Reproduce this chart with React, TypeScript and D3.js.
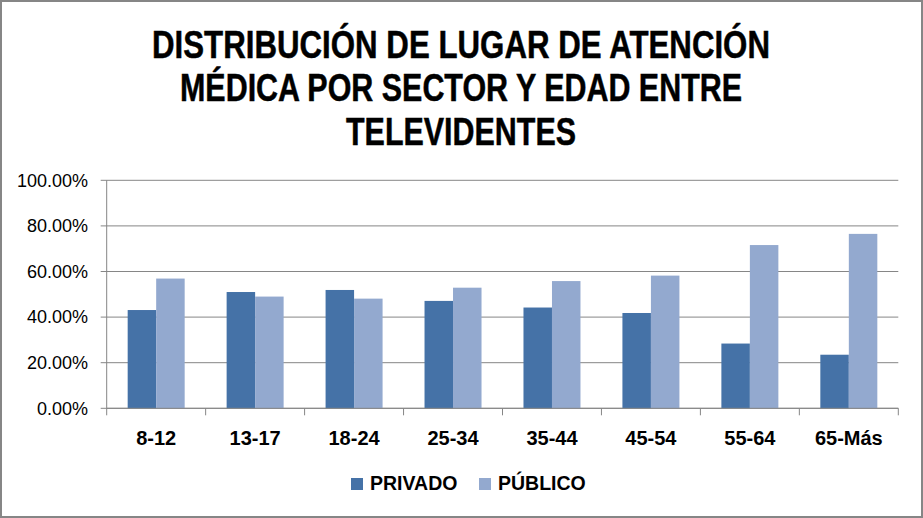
import * as d3 from "d3";
import React, { useEffect, useRef } from "react";

const categories = ["8-12", "13-17", "18-24", "25-34", "35-44", "45-54", "55-64", "65-Más"];
const privado = [0.431, 0.51, 0.519, 0.471, 0.442, 0.418, 0.284, 0.235];
const publico = [0.569, 0.49, 0.481, 0.529, 0.558, 0.582, 0.716, 0.765];
const seriesNames = ["PRIVADO", "PÚBLICO"];
const yTicks = [0, 0.2, 0.4, 0.6, 0.8, 1.0];
const titleLines = [
    "DISTRIBUCIÓN DE LUGAR DE ATENCIÓN",
    "MÉDICA POR SECTOR Y EDAD ENTRE",
    "TELEVIDENTES",
];

const WIDTH = 923;
const HEIGHT = 518;
const colors = ["#4572A7", "#93A9CF"];
const gray = "#868686";
const bodyFont = "'Liberation Sans', Arial, sans-serif";

export default function App() {
    const svgRef = useRef<SVGSVGElement>(null);

    useEffect(() => {
        const svg = d3.select(svgRef.current);
        svg.selectAll("*").remove();

        // outer frame
        svg.append("rect")
            .attr("x", 1).attr("y", 1)
            .attr("width", WIDTH - 2).attr("height", HEIGHT - 2)
            .attr("fill", "#fff")
            .attr("stroke", gray)
            .attr("stroke-width", 2);

        // title: wide font squeezed to the width of the original condensed face
        const titleBase = [58, 101, 145];
        const titleWidths = [618, 562, 230];
        titleLines.forEach((line, i) => {
            svg.append("text")
                .attr("x", 461)
                .attr("y", titleBase[i])
                .attr("text-anchor", "middle")
                .attr("font-family", bodyFont)
                .attr("font-weight", "bold")
                .attr("font-size", 39)
                .attr("textLength", titleWidths[i])
                .attr("lengthAdjust", "spacingAndGlyphs")
                .attr("stroke", "#000")
                .attr("stroke-width", 0.5)
                .attr("fill", "#000")
                .text(line);
        });

        const left = 106.7, right = 898.3, top = 180.3, bottom = 408.3;

        const x = d3.scaleBand<string>()
            .domain(categories)
            .range([left, right])
            .paddingInner(0.424)
            .paddingOuter(0.212);
        const xSub = d3.scaleBand<string>()
            .domain(seriesNames)
            .range([0, x.bandwidth()]);
        const y = d3.scaleLinear().domain([0, 1]).range([bottom, top]);
        const boundary = d3.scaleLinear().domain([0, categories.length]).range([left, right]);

        // gridlines + y labels
        const grid = svg.append("g").attr("class", "grid");
        yTicks.forEach(t => {
            grid.append("line")
                .attr("x1", left - 6).attr("x2", right)
                .attr("y1", y(t)).attr("y2", y(t))
                .attr("stroke", gray).attr("stroke-width", 1);
            grid.append("text")
                .attr("x", 88)
                .attr("y", y(t))
                .attr("dy", "0.35em")
                .attr("text-anchor", "end")
                .attr("font-family", bodyFont)
                .attr("font-size", 18)
                .attr("fill", "#000")
                .text(d3.format(".2%")(t));
        });

        // bars
        const series = [privado, publico];
        const groups = svg.append("g").attr("class", "bars");
        series.forEach((vals, si) => {
            groups.selectAll(`.bar-${si}`)
                .data(vals)
                .enter()
                .append("rect")
                .attr("class", `bar-${si}`)
                .attr("x", (_d, i) => (x(categories[i]) || 0) + (xSub(seriesNames[si]) || 0))
                .attr("y", d => y(d))
                .attr("width", xSub.bandwidth())
                .attr("height", d => bottom - y(d))
                .attr("fill", colors[si]);
        });

        // axes
        svg.append("line")
            .attr("x1", left).attr("x2", left)
            .attr("y1", top).attr("y2", bottom)
            .attr("stroke", gray);
        svg.append("line")
            .attr("x1", left).attr("x2", right)
            .attr("y1", bottom).attr("y2", bottom)
            .attr("stroke", gray);
        d3.range(categories.length + 1).forEach(i => {
            svg.append("line")
                .attr("x1", boundary(i)).attr("x2", boundary(i))
                .attr("y1", bottom).attr("y2", bottom + 7)
                .attr("stroke", gray);
        });

        // x labels
        categories.forEach(c => {
            svg.append("text")
                .attr("x", (x(c) || 0) + x.bandwidth() / 2)
                .attr("y", 445)
                .attr("text-anchor", "middle")
                .attr("font-family", bodyFont)
                .attr("font-weight", "bold")
                .attr("font-size", 20)
                .attr("fill", "#000")
                .text(c);
        });

        // legend
        const legendX = [351, 479];
        seriesNames.forEach((name, i) => {
            svg.append("rect")
                .attr("x", legendX[i]).attr("y", 478)
                .attr("width", 12).attr("height", 12)
                .attr("fill", colors[i]);
            svg.append("text")
                .attr("x", legendX[i] + 19)
                .attr("y", 490)
                .attr("font-family", bodyFont)
                .attr("font-weight", "bold")
                .attr("font-size", 19.5)
                .attr("fill", "#000")
                .text(name);
        });
    }, []);

    return (
        <svg
            ref={svgRef}
            width={WIDTH}
            height={HEIGHT}
            style={{ position: "absolute", left: 0, top: 0 }}
        />
    );
}
